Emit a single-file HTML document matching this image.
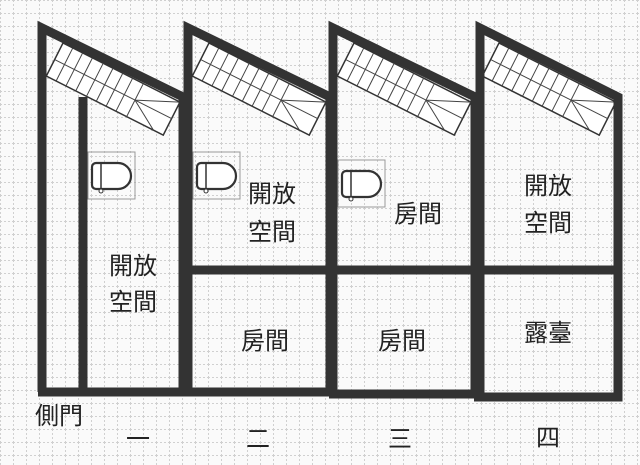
<!DOCTYPE html>
<html><head><meta charset="utf-8"><style>
html,body{margin:0;padding:0;background:#fafafa}
svg{display:block}
text{font-family:"Liberation Sans","Noto Sans CJK TC",sans-serif;fill:#222;font-size:24px;text-anchor:middle}
</style></head><body>
<svg width="640" height="465" viewBox="0 0 640 465" xmlns="http://www.w3.org/2000/svg">
<defs>
<pattern id="g" width="13" height="13" patternUnits="userSpaceOnUse">
<path d="M0 0.5H13M0.5 0V13" stroke="#d0d0d0" stroke-width="1" stroke-dasharray="2,2" fill="none"/>
</pattern>
<g id="stair">
<g transform="rotate(26.8)">
<rect x="0" y="0" width="131" height="37" fill="#fff" stroke="#333" stroke-width="1.5"/>
<path d="M0 18.5H90M11 0V37M22 0V37M33 0V37M45 0V37M56 0V37M67 0V37M78 0V37M90 0V37M90 18.5L131 18.5M90 18.5L131 0M90 18.5L120 37" stroke="#444" stroke-width="1" fill="none"/>
</g>
</g>
<g id="wc">
<rect x="0" y="0" width="47" height="47" fill="none" stroke="#999" stroke-width="1"/>
<path d="M8 11H30A13 13 0 0 1 30 37H8A4 4 0 0 1 4 33V15A4 4 0 0 1 8 11Z" fill="#fff" stroke="#333" stroke-width="2.2"/>
<path d="M13 11V37" stroke="#333" stroke-width="1.5"/>
<circle cx="13" cy="39" r="2" fill="#fff" stroke="#333"/>
</g>
</defs>
<rect width="640" height="465" fill="#fafafa"/>
<rect width="640" height="465" fill="url(#g)"/>
<use href="#stair" transform="translate(63,43)"/>
<use href="#stair" transform="translate(209,43)"/>
<use href="#stair" transform="translate(354,43)"/>
<use href="#stair" transform="translate(499,43)"/>
<use href="#wc" transform="translate(88,152)"/>
<use href="#wc" transform="translate(193,152)"/>
<use href="#wc" transform="translate(338,160)"/>
<g stroke="#333" stroke-width="9" fill="none" stroke-linejoin="miter">
<path d="M42 392V28L183 97V392H38"/>
<path d="M83 97V392"/>
<path d="M188 392V28L330 97V392H184"/>
<path d="M188 270H330"/>
<path d="M333 392V28L475 97V394H329"/>
<path d="M333 270H475"/>
<path d="M480 397V28L618 97V397H474"/>
<path d="M480 270H618"/>
</g>
<text x="133" y="274">開放</text>
<text x="133" y="310">空間</text>
<text x="272" y="202">開放</text>
<text x="272" y="240">空間</text>
<text x="418" y="222">房間</text>
<text x="548" y="194">開放</text>
<text x="548" y="231">空間</text>
<text x="265" y="349">房間</text>
<text x="402" y="349">房間</text>
<text x="548" y="341">露臺</text>
<text x="59" y="424">側門</text>
<text x="138" y="447">一</text>
<text x="258" y="447">二</text>
<text x="400" y="447">三</text>
<text x="548" y="446">四</text>
</svg>
</body></html>
